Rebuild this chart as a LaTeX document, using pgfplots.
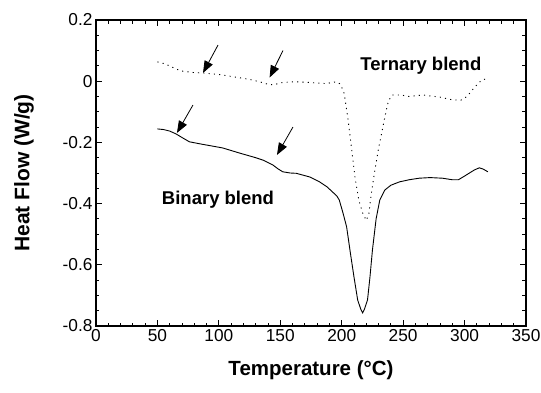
\documentclass[border=0pt]{standalone}
\usepackage{fontspec}
\setmainfont{Liberation Sans}
\usepackage{pgfplots}
\pgfplotsset{compat=1.18}
\usetikzlibrary{arrows.meta}
\DeclareRobustCommand\labfont{\fontsize{18.5}{20}\selectfont\bfseries}
\begin{document}
\begin{tikzpicture}
\begin{axis}[
  name=ax,
  scale only axis,
  width=430pt, height=306pt,
  xmin=0, xmax=350, ymin=-0.8, ymax=0.2,
  xtick={0,50,...,350},
  ytick={-0.8,-0.6,...,0.2},
  minor x tick num=4,
  minor y tick num=3,
  tick align=inside,
  major tick length=6pt,
  minor tick length=3.5pt,
  axis line style={line width=1.1pt},
  every tick/.style={line width=0.9pt, black},
  /pgf/number format/assume math mode=true,
  /pgf/number format/fixed,
  /pgf/number format/precision=1,
  every tick label/.append style={font=\LARGE},
  xlabel={\textbf{Temperature (°C)}},
  ylabel={\textbf{Heat Flow (W/g)}},
  every axis x label/.style={at={(axis description cs:0.5,0)}, anchor=north, yshift=-34pt, inner sep=0pt, font=\fontsize{20.5}{20.5}\selectfont},
  every axis y label/.style={at={(axis description cs:-0.144,0.5)}, rotate=90, anchor=south, inner sep=0pt, font=\fontsize{21}{21}\selectfont},
  clip=false,
]
% Ternary blend (dotted)
\addplot[black, line width=0.9pt, dash pattern=on 1.1pt off 4.2pt] coordinates {
(50,0.063) (55,0.058) (60,0.050) (65,0.040) (70,0.033) (80,0.028) (87,0.027)
(100,0.022) (111,0.015) (125,0.006) (135,-0.004) (140,-0.010) (145,-0.012)
(150,-0.005) (160,-0.002) (170,-0.003) (180,-0.006) (188,-0.008) (192,-0.004)
(196,-0.002) (199,-0.010) (202,-0.040) (205,-0.12) (208,-0.22) (211,-0.32)
(214,-0.39) (217,-0.43) (220,-0.455) (222,-0.435) (224,-0.37) (227,-0.29)
(230,-0.22) (233,-0.16) (236,-0.10) (238,-0.065) (241,-0.045) (248,-0.045)
(255,-0.050) (266,-0.045) (280,-0.052) (290,-0.061) (297,-0.062) (302,-0.050)
(306,-0.030) (310,-0.012) (314,0.004) (318,0.008)
};
% Binary blend (solid)
\addplot[black, line width=0.9pt] coordinates {
(50,-0.156) (55,-0.158) (60,-0.163) (65,-0.172) (70,-0.184) (76,-0.198)
(85,-0.205) (103,-0.218) (117,-0.235) (130,-0.250) (136,-0.258) (144,-0.274)
(148,-0.286) (152,-0.296) (158,-0.300) (163,-0.301) (174,-0.313) (182,-0.329)
(188,-0.345) (192,-0.360) (196,-0.375) (198,-0.388) (201,-0.430) (204,-0.476)
(207,-0.560) (210,-0.640) (213,-0.715) (215.5,-0.745) (217,-0.757)
(218.5,-0.745) (221,-0.715) (223,-0.640) (225,-0.552) (228,-0.450)
(231,-0.388) (235,-0.356) (240,-0.340) (247,-0.329) (255,-0.322) (263,-0.317)
(272,-0.315) (282,-0.317) (290,-0.322) (295,-0.322) (300,-0.310) (304,-0.300)
(308,-0.290) (312,-0.283) (315,-0.287) (319,-0.296)
};
% Arrows
\draw[line width=0.8pt, -{Triangle[length=12pt,width=9pt]}] (axis cs:99.3,0.118) -- (axis cs:87.1,0.027);
\draw[line width=0.8pt, -{Triangle[length=12pt,width=9pt]}] (axis cs:152.2,0.100) -- (axis cs:141.3,0.012);
\draw[line width=0.8pt, -{Triangle[length=12pt,width=9pt]}] (axis cs:78.9,-0.078) -- (axis cs:65.9,-0.169);
\draw[line width=0.8pt, -{Triangle[length=12pt,width=9pt]}] (axis cs:160.3,-0.150) -- (axis cs:147.3,-0.241);
% Labels
\node[font=\labfont] at (axis cs:264.4,0.05) {Ternary blend};
\node[font=\labfont] at (axis cs:99.3,-0.388) {Binary blend};
\end{axis}
\pgfresetboundingbox
\path[use as bounding box] ([xshift=-96pt,yshift=-66pt]ax.south west) rectangle ([xshift=15pt,yshift=20pt]ax.north east);
\end{tikzpicture}
\end{document}
